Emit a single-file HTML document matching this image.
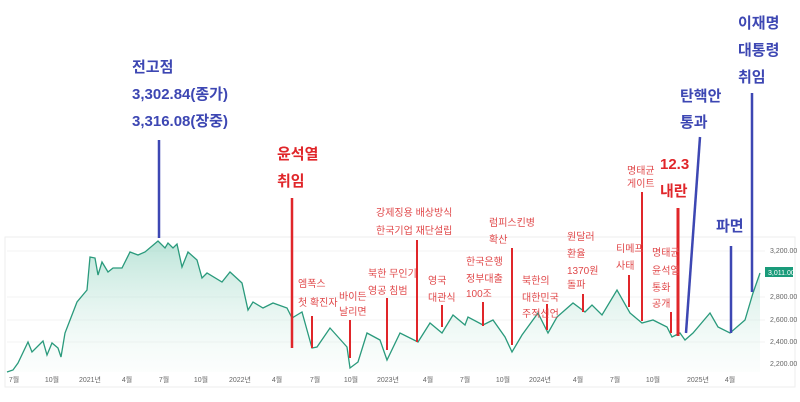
<!DOCTYPE html>
<html><head><meta charset="utf-8"><style>
html,body{margin:0;padding:0;background:#fff;}
svg{display:block;font-family:"Liberation Sans","Noto Sans CJK KR",sans-serif;}
.b{fill:#3d47b3;font-weight:bold;font-size:15px;}
.r{fill:#e0262a;font-weight:bold;font-size:15px;}
.s{fill:#e0484a;font-size:10px;}
.ax{fill:#666;font-size:7px;}
</style></head><body>
<svg width="800" height="402" viewBox="0 0 800 402">
<defs><linearGradient id="g" x1="0" y1="0" x2="0" y2="1"><stop offset="0" stop-color="#8fd3bf" stop-opacity="0.6"/><stop offset="1" stop-color="#eef8f4" stop-opacity="0.2"/></linearGradient></defs>
<rect x="5" y="237" width="790" height="150" fill="none" stroke="#eee"/>
<g stroke="#f3f3f3" stroke-width="1"><line x1="7" y1="251" x2="765" y2="251"/><line x1="7" y1="297" x2="765" y2="297"/><line x1="7" y1="320" x2="765" y2="320"/><line x1="7" y1="342" x2="765" y2="342"/></g>
<polygon fill="url(#g)" points="7,372 13,370 18,363 28,342 32,352 43,341 47,355 52,343 58,348 61,357 65,333 77,302 87,290 90,257 95,258 98,275 102,262 108,272 113,268 122,268 130,252 138,255 145,252 158,241 165,248 168,243 173,248 177,244 182,267 188,252 197,260 202,278 207,273 222,282 230,272 242,283 248,310 253,302 263,308 273,303 287,308 292,318 302,312 312,348 317,347 330,328 347,347 350,368 358,362 367,333 380,340 387,360 400,333 418,342 430,323 442,333 453,315 465,325 468,317 483,325 493,320 505,337 512,352 522,335 538,313 548,333 557,317 573,303 585,312 592,305 602,315 617,290 630,313 642,323 653,320 667,327 672,337 680,333 685,340 693,333 710,313 718,327 730,333 745,320 753,293 760,273 760,372"/>
<polyline fill="none" stroke="#2a9a7c" stroke-width="1.3" points="7,372 13,370 18,363 28,342 32,352 43,341 47,355 52,343 58,348 61,357 65,333 77,302 87,290 90,257 95,258 98,275 102,262 108,272 113,268 122,268 130,252 138,255 145,252 158,241 165,248 168,243 173,248 177,244 182,267 188,252 197,260 202,278 207,273 222,282 230,272 242,283 248,310 253,302 263,308 273,303 287,308 292,318 302,312 312,348 317,347 330,328 347,347 350,368 358,362 367,333 380,340 387,360 400,333 418,342 430,323 442,333 453,315 465,325 468,317 483,325 493,320 505,337 512,352 522,335 538,313 548,333 557,317 573,303 585,312 592,305 602,315 617,290 630,313 642,323 653,320 667,327 672,337 680,333 685,340 693,333 710,313 718,327 730,333 745,320 753,293 760,273"/>
<g class="ax" text-anchor="middle">
<text x="14" y="382">7월</text><text x="52" y="382">10월</text><text x="90" y="382">2021년</text><text x="127" y="382">4월</text><text x="164" y="382">7월</text><text x="201" y="382">10월</text><text x="240" y="382">2022년</text><text x="277" y="382">4월</text><text x="315" y="382">7월</text><text x="351" y="382">10월</text><text x="388" y="382">2023년</text><text x="428" y="382">4월</text><text x="465" y="382">7월</text><text x="503" y="382">10월</text><text x="540" y="382">2024년</text><text x="578" y="382">4월</text><text x="615" y="382">7월</text><text x="653" y="382">10월</text><text x="698" y="382">2025년</text><text x="730" y="382">4월</text>
</g>
<g class="ax"><text x="770" y="253">3,200.00</text><text x="770" y="299">2,800.00</text><text x="770" y="322">2,600.00</text><text x="770" y="344">2,400.00</text><text x="770" y="366">2,200.00</text></g>
<rect x="765" y="267" width="28" height="10" fill="#1a9b7a"/><text x="768" y="275" fill="#fff" font-size="7">3,011.00</text>
<g stroke="#3d47b3" stroke-width="2.5"><line x1="159" y1="140" x2="159" y2="238"/><line x1="700" y1="137" x2="686" y2="333"/><line x1="731" y1="246" x2="731" y2="333"/><line x1="752" y1="93" x2="752" y2="292"/></g>
<g stroke="#e0262a" stroke-width="2"><line x1="292" y1="198" x2="292" y2="348" stroke-width="2.5"/><line x1="417" y1="240" x2="417" y2="342"/><line x1="312" y1="316" x2="312" y2="348"/><line x1="350" y1="320" x2="350" y2="358"/><line x1="387" y1="298" x2="387" y2="350"/><line x1="442" y1="305" x2="442" y2="327"/><line x1="483" y1="302" x2="483" y2="326"/><line x1="512" y1="248" x2="512" y2="345"/><line x1="547" y1="304" x2="547" y2="330"/><line x1="583" y1="294" x2="583" y2="312"/><line x1="642" y1="192" x2="642" y2="321"/><line x1="629" y1="275" x2="629" y2="307"/><line x1="671" y1="312" x2="671" y2="333"/><line x1="678" y1="208" x2="678" y2="336" stroke-width="3"/></g>
<g class="b"><text x="132" y="72">전고점</text><text x="132" y="99">3,302.84(종가)</text><text x="132" y="126">3,316.08(장중)</text>
<text x="680" y="101">탄핵안</text><text x="680" y="127">통과</text><text x="716" y="231">파면</text>
<text x="738" y="28">이재명</text><text x="738" y="55">대통령</text><text x="738" y="82">취임</text></g>
<g class="r"><text x="277" y="159">윤석열</text><text x="277" y="186">취임</text><text x="660" y="169">12.3</text><text x="660" y="196">내란</text></g>
<g class="s">
<text x="376" y="216">강제징용 배상방식</text><text x="376" y="234">한국기업 재단설립</text>
<text x="298" y="287">엠폭스</text><text x="298" y="306">첫 확진자</text>
<text x="339" y="300">바이든</text><text x="339" y="315">날리면</text>
<text x="368" y="277">북한 무인기</text><text x="368" y="294">영공 침범</text>
<text x="428" y="284">영국</text><text x="428" y="301">대관식</text>
<text x="466" y="265">한국은행</text><text x="466" y="282">정부대출</text><text x="466" y="297">100조</text>
<text x="489" y="226">럼피스킨병</text><text x="489" y="243">확산</text>
<text x="522" y="284">북한의</text><text x="522" y="301">대한민국</text><text x="522" y="317">주적선언</text>
<text x="567" y="240">원달러</text><text x="567" y="257">환율</text><text x="567" y="274">1370원</text><text x="567" y="288">돌파</text>
<text x="627" y="174">명태균</text><text x="627" y="187">게이트</text>
<text x="616" y="252">티메프</text><text x="616" y="269">사태</text>
<text x="652" y="256">명태균</text><text x="652" y="274">윤석열</text><text x="652" y="291">통화</text><text x="652" y="307">공개</text>
</g>
</svg>
</body></html>
